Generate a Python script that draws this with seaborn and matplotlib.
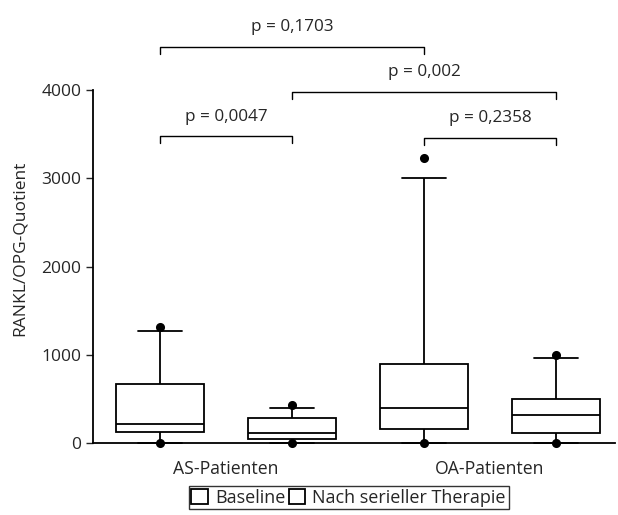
import numpy as np
import pandas as pd
import matplotlib
matplotlib.use("Agg")
import matplotlib.pyplot as plt
import seaborn as sns

# values (RANKL/OPG ratio)
groups = ["AS-Patienten", "OA-Patienten"]
phases = ["Baseline", "Nach serieller Therapie"]
whisk_lo = [0, 0, 0, 0]
q1 = [128, 42, 155, 110]
median = [212, 117, 393, 314]
q3 = [665, 287, 892, 502]
whisk_hi = [1273, 400, 3000, 963]
point_min = [0, 0, 0, 0]
point_max = [1318, 430, 3226, 997]

# significance brackets: (group, phase) pairs, bracket height, label
brackets = [
    ((0, 0), (0, 1), 3480, "p = 0,0047"),
    ((1, 0), (1, 1), 3460, "p = 0,2358"),
    ((0, 1), (1, 1), 3980, "p = 0,002"),
    ((0, 0), (1, 0), 4490, "p = 0,1703"),
]

boxes = []
dots = []
i = 0
for g in groups:
    for ph in phases:
        for v in [whisk_lo[i], q1[i], median[i], q3[i], whisk_hi[i]]:
            boxes.append({"Gruppe": g, "Phase": ph, "Wert": v})
        for v in [point_min[i], point_max[i]]:
            dots.append({"Gruppe": g, "Phase": ph, "Wert": v})
        i += 1
box_df = pd.DataFrame(boxes)
dot_df = pd.DataFrame(dots)

sns.set_style("ticks")
plt.rcParams["font.family"] = ["Open Sans", "DejaVu Sans"]

fig = plt.figure(figsize=(6.18, 5.15), dpi=100)
ax = fig.add_axes([0.150, 0.140, 0.845, 0.685])

sns.boxplot(data=box_df, x="Gruppe", y="Wert", hue="Phase", order=groups,
            hue_order=phases, palette=["white", "white"], linecolor="black",
            linewidth=1.3, width=1.0, gap=0.33, whis=(0, 100),
            showfliers=False, ax=ax)

for est in ["min", "max"]:
    sns.pointplot(data=dot_df, x="Gruppe", y="Wert", hue="Phase", order=groups,
                  hue_order=phases, estimator=est, errorbar=None, dodge=0.5,
                  linestyle="none", marker="o", markersize=4.5,
                  palette=["black", "black"], legend=False, ax=ax)
for coll in ax.collections + ax.lines:
    coll.set_clip_on(False)

ax.set_xlim(-0.504, 1.473)
ax.set_ylim(0, 4000)
ax.set_yticks([0, 1000, 2000, 3000, 4000])
ax.set_xlabel("")
ax.set_ylabel("RANKL/OPG-Quotient", fontsize=12.5, va="center")
ax.yaxis.set_label_coords(-0.14, 0.552)
ax.tick_params(axis="y", labelsize=12.5, length=5, width=1, direction="out", pad=3)
ax.tick_params(axis="x", labelsize=12.7, length=0, pad=12)
sns.despine(ax=ax)
for s in ["left", "bottom"]:
    ax.spines[s].set_linewidth(1.3)
    ax.spines[s].set_color("black")

def pos(gp):
    return gp[0] + (gp[1] - 0.5) * 0.5

for a, b, y, label in brackets:
    x1, x2 = pos(a), pos(b)
    ax.plot([x1, x1, x2, x2], [y - 80, y, y, y - 80], color="black",
            lw=1.0, clip_on=False)
    ax.text((x1 + x2) / 2, y + 130, label, ha="center", va="bottom",
            fontsize=12.3)

sns.move_legend(ax, "center", bbox_to_anchor=(0.49, -0.155), ncol=2,
                title=None, frameon=True, fontsize=13, handlelength=0.9,
                handleheight=0.9, handletextpad=0.4, columnspacing=0.2,
                borderpad=0.15, borderaxespad=0, fancybox=False)
leg = ax.get_legend()
leg.get_frame().set_edgecolor("black")
leg.get_frame().set_linewidth(1.0)
for h in leg.legend_handles:
    h.set_facecolor("white")
    h.set_edgecolor("black")

fig.savefig("out.png", dpi=100)
